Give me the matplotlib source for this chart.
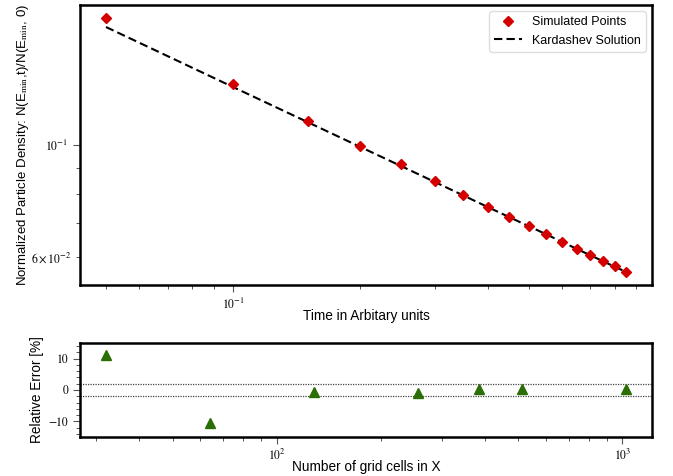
import numpy as np
import matplotlib
matplotlib.use("Agg")
import matplotlib.pyplot as plt
from matplotlib.ticker import AutoMinorLocator

plt.rcParams['font.family'] = ['Liberation Sans', 'DejaVu Sans']
plt.rcParams['mathtext.fontset'] = 'stix'

# ---- data ----
time = [0.05, 0.10, 0.15, 0.20, 0.25, 0.30, 0.35, 0.40, 0.45,
        0.50, 0.55, 0.60, 0.65, 0.70, 0.75, 0.80, 0.85]
simulated = [0.1786, 0.1323, 0.1117, 0.0997, 0.0916, 0.0847, 0.0796, 0.0755, 0.0719,
             0.0690, 0.0666, 0.0643, 0.0623, 0.0605, 0.0589, 0.0575, 0.0560]
kardashev = [0.1712, 0.1302, 0.1110, 0.0991, 0.0908, 0.0845, 0.0795, 0.0754, 0.0720,
             0.0691, 0.0666, 0.0643, 0.0623, 0.0605, 0.0589, 0.0574, 0.0561]

grid_cells = [32, 64, 128, 256, 384, 512, 1024]
rel_error = [11.3, -10.6, -0.6, -1.1, 0.2, 0.2, 0.2]
tolerance = [2, -2]

fig = plt.figure(figsize=(6.73, 4.76), dpi=100)
ax1 = fig.add_axes([80/673, 1-285/476, 572/673, 280/476])
ax2 = fig.add_axes([80/673, 1-437/476, 572/673, 94/476])

red = '#d40000'
green = '#2a6e05'

ax1.plot(time, simulated, linestyle='none', marker='D', markersize=5.5,
         color=red, label='Simulated Points', zorder=3)
ax1.plot(time, kardashev, linestyle=(0, (4, 2)), color='black', linewidth=1.5,
         label='Kardashev Solution', zorder=2)
ax1.set_xscale('log')
ax1.set_yscale('log')
ax1.set_xlabel('Time in Arbitary units', fontsize=9.8, labelpad=-2)
ax1.set_ylabel(r'Normalized Particle Density: N(E$_{\rm min}$,t)/N(E$_{\rm min}$, 0)',
               fontsize=9.5, labelpad=0)
leg = ax1.legend(loc='upper right', numpoints=1, fontsize=9, frameon=True,
                 fancybox=True, edgecolor='#dddddd', framealpha=1,
                 handlelength=2.2)

ax2.plot(grid_cells, rel_error, linestyle='none', marker='^', markersize=7,
         color=green, zorder=3)
for tl in tolerance:
    ax2.axhline(tl, color='#444444', linestyle=(0, (1, 1)), linewidth=0.9)
ax2.set_xscale('log')
ax2.set_ylim(-15, 15)
ax2.set_yticks([-10, 0, 10])
ax2.yaxis.set_minor_locator(AutoMinorLocator(5))
ax2.set_xlabel('Number of grid cells in X', fontsize=9.8, labelpad=-2)
ax2.set_ylabel('Relative Error [%]', fontsize=9.8, labelpad=3)

for ax in (ax1, ax2):
    for sp in ax.spines.values():
        sp.set_linewidth(1.8)
    ax.tick_params(which='major', length=5, width=0.8, labelsize=8.5, color='#555555')
    ax.tick_params(which='minor', length=3, width=0.7, labelsize=8.5, color='#555555')
ax2.tick_params(axis='x', which='both', pad=2.5)

fig.canvas.draw()
for ax in (ax1, ax2):
    for lbl in ax.get_xticklabels(which='both') + ax.get_yticklabels(which='both'):
        lbl.set_family('STIXGeneral')

fig.savefig('out.png', dpi=100)
